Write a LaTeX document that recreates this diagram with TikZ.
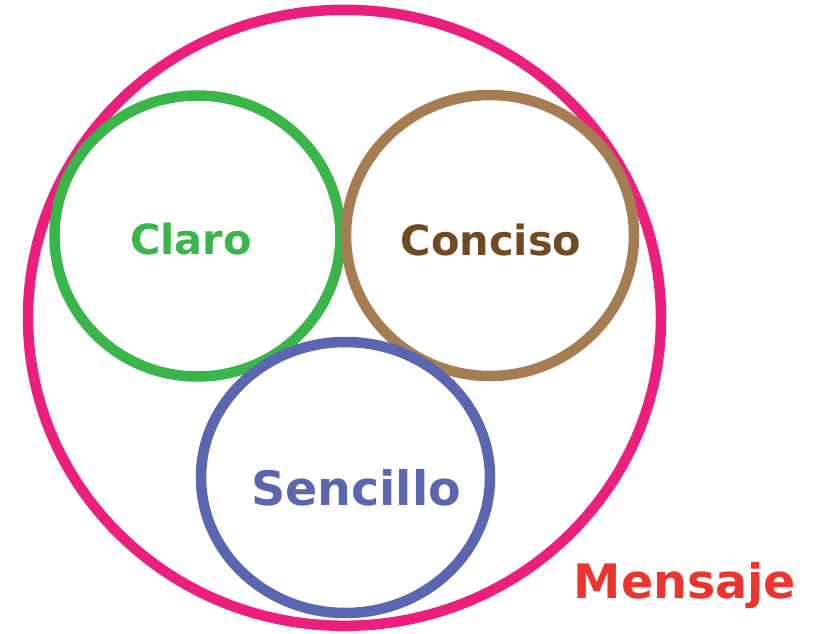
\documentclass[tikz,border=0pt]{standalone}
\usepackage{fontspec}
\setmainfont{DejaVu Sans}
\definecolor{cpink}{HTML}{EC1F7C}
\definecolor{cgreen}{HTML}{3AB54A}
\definecolor{cbrown}{HTML}{A67C52}
\definecolor{cblue}{HTML}{5A66B0}
\definecolor{tbrown}{HTML}{714A24}
\definecolor{tred}{HTML}{EE342E}
\tikzset{
  ring/.style={line width=10.5pt},
  lbl/.style={font=\bfseries\fontsize{41.5}{48}\selectfont, inner sep=0pt, anchor=base},
  biglbl/.style={font=\bfseries\fontsize{47.5}{54}\selectfont, inner sep=0pt, anchor=base}
}
\begin{document}
\begin{tikzpicture}[x=1pt,y=-1pt]
\useasboundingbox (0,0) rectangle (816,634);
\draw[ring, cpink] (344.5,317.8) ellipse [x radius=316.5, y radius=308];
\draw[ring, cgreen] (197.5,236) ellipse [x radius=143, y radius=140.5];
\draw[ring, cbrown] (490,235.5) ellipse [x radius=144, y radius=140.5];
\draw[ring, cblue] (345.5,477.5) ellipse [x radius=144.5, y radius=135.5];
\node[lbl, text=cgreen] (claro) at (191,254) {Claro};
\node[lbl, text=tbrown] (conciso) at (491,255) {Conciso};
\node[biglbl, text=cblue] (sencillo) at (356,505) {Sencillo};
\node[biglbl, text=tred] (mensaje) at (685,598) {Mensaje};
\end{tikzpicture}
\end{document}
